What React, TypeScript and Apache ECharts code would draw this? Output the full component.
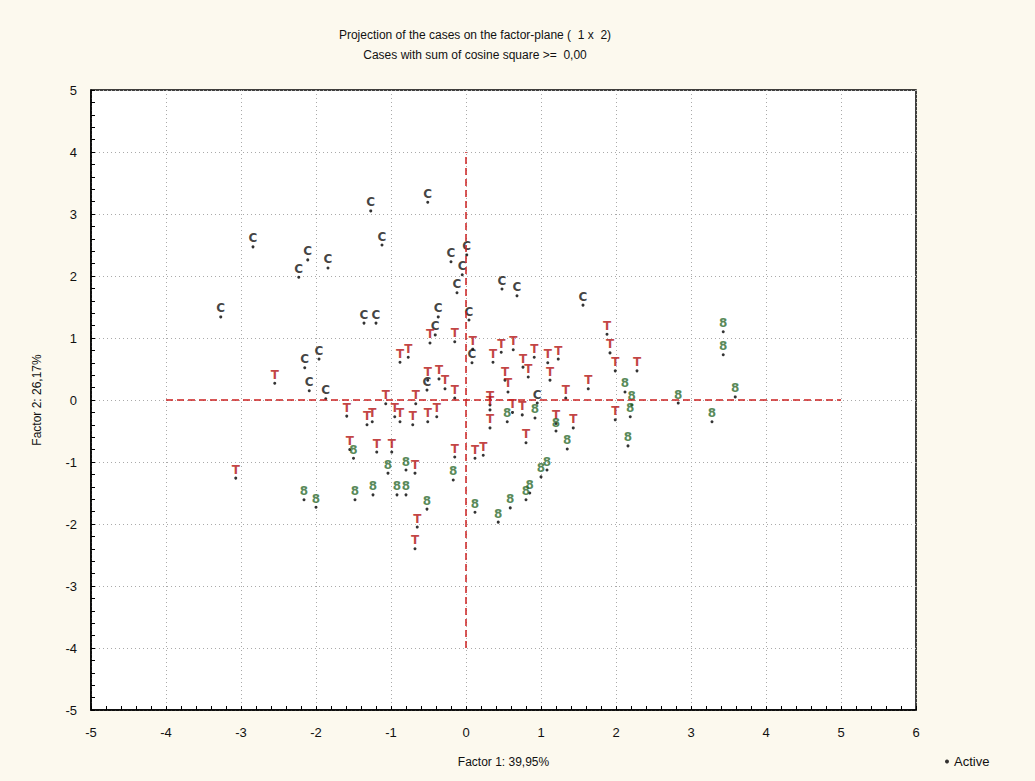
import React, { useEffect, useRef } from "react";
import * as echarts from "echarts";

const titleLines = [
  "Projection of the cases on the factor-plane (  1 x  2)",
  "Cases with sum of cosine square >=  0,00",
];
const xAxisName = "Factor 1: 39,95%";
const yAxisName = "Factor 2: 26,17%";
const legendName = "Active";

const xTicks = { min: -5, max: 6, interval: 1 };
const yTicks = { min: -5, max: 5, interval: 1 };

// Cases labelled "C"
const casesC: number[][] = [
  [-1.27, 3.05], [-1.12, 2.5], [-2.84, 2.47], [-2.23, 1.98], [-2.11, 2.26],
  [-1.84, 2.13], [-3.27, 1.34], [-1.36, 1.24], [-1.2, 1.24], [-1.96, 0.66],
  [-2.15, 0.52], [-2.09, 0.15], [-1.87, 0.02], [-0.51, 3.19], [-0.2, 2.23],
  [0.01, 2.34], [-0.12, 1.73], [-0.05, 2.02], [0.48, 1.79], [0.68, 1.68],
  [1.56, 1.53], [-0.37, 1.34], [0.04, 1.29], [-0.41, 1.05], [0.08, 0.6],
  [-0.52, 0.16], [0.95, -0.05],
];

// Cases labelled "T"
const casesT: number[][] = [
  [1.88, 1.06], [1.92, 0.76], [1.99, 0.47], [2.28, 0.47], [1.63, 0.18],
  [1.33, 0.03], [1.23, 0.66], [1.09, 0.6], [1.12, 0.32], [0.91, 0.69],
  [0.76, 0.53], [0.83, 0.37], [0.63, 0.81], [0.47, 0.77], [0.36, 0.61],
  [0.52, 0.32], [0.56, 0.13], [0.32, -0.08], [0.09, 0.82], [-0.15, 0.94],
  [-0.77, 0.69], [-0.88, 0.61], [-0.48, 0.92], [-0.51, 0.32], [-0.36, 0.34],
  [-0.28, 0.18], [-0.15, 0.03], [-1.07, -0.06], [-0.67, -0.06], [-2.55, 0.27],
  [-3.07, -1.26], [-1.59, -0.26], [-1.32, -0.4], [-1.25, -0.35], [-1.19, -0.84],
  [-0.95, -0.27], [-0.88, -0.35], [-0.71, -0.4], [-0.51, -0.35], [-0.39, -0.27],
  [-1.55, -0.8], [-0.99, -0.84], [-0.68, -1.18], [-0.65, -2.05], [-0.68, -2.4],
  [-0.15, -0.92], [0.12, -0.94], [0.23, -0.89], [1.43, -0.45], [0.8, -0.69],
  [0.32, -0.16], [0.32, -0.45], [0.75, -0.24], [0.62, -0.2], [1.99, -0.32],
  [1.2, -0.38],
];

// Cases labelled "8"
const cases8: number[][] = [
  [-2.16, -1.61], [-2.0, -1.73], [-1.48, -1.61], [-1.24, -1.53], [-1.04, -1.18],
  [-0.8, -1.13], [-0.92, -1.53], [-0.8, -1.53], [-0.52, -1.76], [0.12, -1.81],
  [-0.17, -1.29], [-1.5, -0.94], [0.43, -1.97], [0.59, -1.74], [0.8, -1.61],
  [0.85, -1.5], [1.0, -1.24], [1.08, -1.13], [1.35, -0.79], [1.2, -0.5],
  [0.55, -0.35], [0.92, -0.29], [2.16, -0.74], [2.19, -0.27], [2.21, -0.08],
  [2.12, 0.13], [2.83, -0.05], [3.28, -0.35], [3.59, 0.05], [3.43, 1.1],
  [3.43, 0.73],
];

const groups = [
  { label: "C", color: "#111111", points: casesC },
  { label: "T", color: "#b31212", points: casesT },
  { label: "8", color: "#2c6a2c", points: cases8 },
];

// reference axes (dashed red cross)
const crossH = [[-4, 0], [5, 0]];
const crossV = [[0, -4], [0, 4]];

export default function App() {
  const ref = useRef<HTMLDivElement>(null);
  useEffect(() => {
    document.body.style.margin = "0";
    document.body.style.background = "#fcf9ee";
    const chart = echarts.init(ref.current!, undefined, { renderer: "svg" });
    const data: any[] = [];
    groups.forEach((g) => {
      g.points.forEach((p) => {
        data.push({
          value: p,
          label: { formatter: g.label, color: g.color },
        });
      });
    });
    const font = "Liberation Sans";
    chart.setOption({
      animation: false,
      backgroundColor: "#fcf9ee",
      textStyle: { fontFamily: font },
      title: [
        {
          text: titleLines[0],
          left: 470,
          top: 24,
          textAlign: "center",
          textStyle: { fontSize: 12, fontWeight: "normal", color: "#111", fontFamily: font },
        },
        {
          text: titleLines[1],
          left: 470,
          top: 44,
          textAlign: "center",
          textStyle: { fontSize: 12, fontWeight: "normal", color: "#111", fontFamily: font },
        },
      ],
      legend: {
        left: 940,
        top: 750,
        icon: "circle",
        itemWidth: 4,
        itemHeight: 4,
        itemGap: 4,
        data: [{ name: legendName, itemStyle: { color: "#000" } }],
        textStyle: { fontSize: 13, color: "#111", fontFamily: font },
      },
      grid: {
        left: 91,
        right: 119,
        top: 90,
        bottom: 71,
        show: true,
        backgroundColor: "#ffffff",
        borderColor: "#000",
        borderWidth: 1.5,
      },
      xAxis: {
        type: "value",
        min: xTicks.min,
        max: xTicks.max,
        interval: xTicks.interval,
        name: xAxisName,
        nameLocation: "middle",
        nameGap: 46,
        nameTextStyle: { fontSize: 12, color: "#111", fontFamily: font },
        axisLine: { onZero: false, lineStyle: { color: "#000", width: 1.5 } },
        axisTick: { inside: true, length: 4, lineStyle: { color: "#000" } },
        minorTick: { show: true, splitNumber: 5, length: 4, lineStyle: { color: "#000" } },
        axisLabel: { fontSize: 13, color: "#111", margin: 16, fontFamily: font },
        splitLine: { show: true, lineStyle: { color: "#aaa", type: [1, 3], width: 1 } },
      },
      yAxis: {
        type: "value",
        min: yTicks.min,
        max: yTicks.max,
        interval: yTicks.interval,
        name: yAxisName,
        nameLocation: "middle",
        nameGap: 48,
        nameTextStyle: { fontSize: 12, color: "#111", fontFamily: font },
        axisLine: { onZero: false, lineStyle: { color: "#000", width: 1.5 } },
        axisTick: { inside: true, length: 4, lineStyle: { color: "#000" } },
        minorTick: { show: true, splitNumber: 5, length: 4, lineStyle: { color: "#000" } },
        axisLabel: { fontSize: 13, color: "#111", margin: 14, fontFamily: font },
        splitLine: { show: true, lineStyle: { color: "#aaa", type: [1, 3], width: 1 } },
      },
      series: [
        {
          name: legendName,
          type: "scatter",
          symbol: "circle",
          symbolSize: 3,
          itemStyle: { color: "#000" },
          label: {
            show: true,
            position: "top",
            distance: 1,
            offset: [3, 0],
            fontSize: 12,
            fontWeight: "bold",
            fontFamily: "DejaVu Sans",
          },
          labelLayout: { hideOverlap: false },
          data,
          markLine: {
            silent: true,
            symbol: "none",
            label: { show: false },
            lineStyle: { color: "#cc2020", type: [7, 4], width: 1.5 },
            data: [
              [{ coord: crossH[0] }, { coord: crossH[1] }],
              [{ coord: crossV[0] }, { coord: crossV[1] }],
            ],
          },
          z: 3,
        },
      ],
    });
    return () => chart.dispose();
  }, []);
  return <div ref={ref} style={{ width: 1035, height: 781 }} />;
}
